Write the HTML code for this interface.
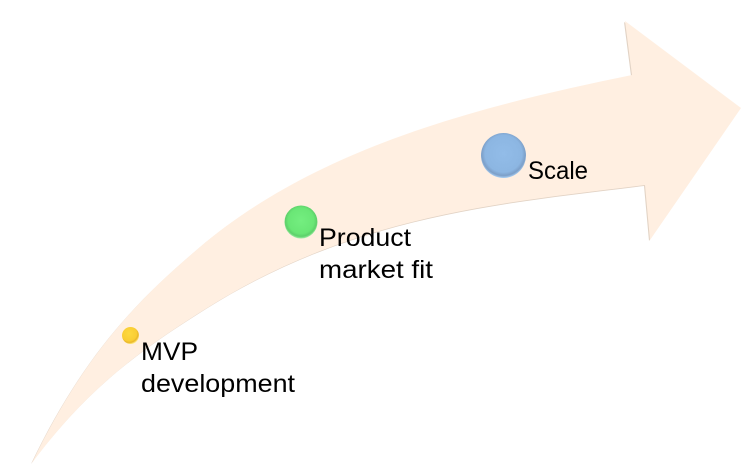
<!DOCTYPE html>
<html><head><meta charset="utf-8"><style>
html,body{margin:0;padding:0;background:#fff;width:750px;height:476px;overflow:hidden}
svg{display:block}
text{font-family:"Liberation Sans",sans-serif;font-size:25px;fill:#000}
</style></head><body>
<svg width="750" height="476" viewBox="0 0 750 476" xmlns="http://www.w3.org/2000/svg">
<defs>
<radialGradient id="y" cx="42%" cy="38%" r="62%"><stop offset="0" stop-color="#fdd93f"/><stop offset=".72" stop-color="#f9cd34"/><stop offset=".86" stop-color="#e8b52a"/><stop offset="1" stop-color="#ffe97a"/></radialGradient>
<radialGradient id="g" cx="50%" cy="46%" r="54%"><stop offset="0" stop-color="#74ee80"/><stop offset=".72" stop-color="#6ae676"/><stop offset=".88" stop-color="#5dd06a"/><stop offset="1" stop-color="#a0f0a8"/></radialGradient>
<radialGradient id="b" cx="50%" cy="46%" r="54%"><stop offset="0" stop-color="#92bce8"/><stop offset=".76" stop-color="#8cb6e2"/><stop offset=".9" stop-color="#7c9fc8"/><stop offset="1" stop-color="#a9d0f5"/></radialGradient>
</defs>
<path d="M32,463 C87,348 145,294 200,247 C320,145 490,104 632,75 L625,21 L741,108 L650,240 L645,185 C500,203 355,215 207,308 C145,347 90,385 32,463 Z" fill="#d8c4b2" transform="translate(-1,1)" opacity=".75"/>
<path d="M32,463 C87,348 145,294 200,247 C320,145 490,104 632,75 L625,21 L741,108 L650,240 L645,185 C500,203 355,215 207,308 C145,347 90,385 32,463 Z" fill="#ffefe1"/>
<circle cx="130.500" cy="335.500" r="8.500" fill="url(#y)"/>
<circle cx="301" cy="222" r="16.500" fill="url(#g)"/>
<circle cx="503.500" cy="155.500" r="22.500" fill="url(#b)"/>
<text x="141" y="360" textLength="57" lengthAdjust="spacingAndGlyphs">MVP</text>
<text x="141" y="392" textLength="154" lengthAdjust="spacingAndGlyphs">development</text>
<text x="319" y="246" textLength="92" lengthAdjust="spacingAndGlyphs">Product</text>
<text x="319" y="278" textLength="114" lengthAdjust="spacingAndGlyphs">market fit</text>
<text x="528" y="179" textLength="60" lengthAdjust="spacingAndGlyphs">Scale</text>
</svg>
</body></html>
